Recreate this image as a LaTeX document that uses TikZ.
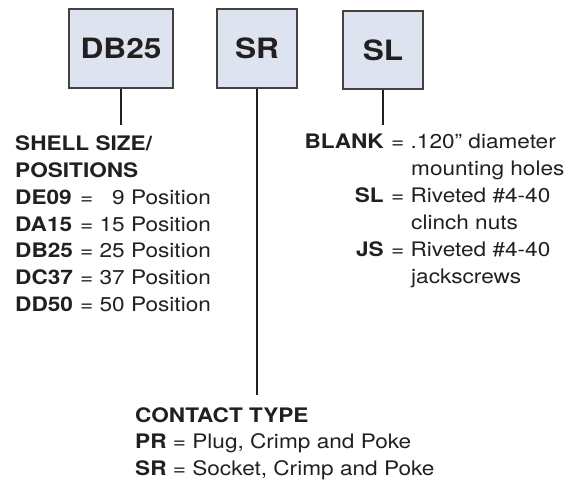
\documentclass[tikz,border=0pt]{standalone}
\usepackage{fontspec}
\setmainfont{TeX Gyre Heros}[FakeStretch=1.13]
\definecolor{boxfill}{HTML}{DDE4EF}
\definecolor{ink}{HTML}{231F20}
\tikzset{
	codebox/.style={draw=ink!85, line width=1.1pt, fill=boxfill, minimum height=79pt, inner sep=0pt, text=ink, font=\fontsize{28}{32}\selectfont\bfseries},
	lbl/.style={inner sep=0pt, text=ink, font=\fontsize{20}{24}\selectfont},
	lead/.style={draw=ink, line width=1.6pt},
}
\begin{document}
\begin{tikzpicture}[x=1pt,y=-1pt]
	\useasboundingbox (0,0) rectangle (580,481);
	\node[codebox,minimum width=104pt] at (121,48.5) (db) {DB25};
	\node[codebox,minimum width=80pt] at (257,48.5) (sr) {SR};
	\node[codebox,minimum width=80pt,minimum height=78pt] at (383,50) (sl) {SL};
	\coordinate (dbend) at (121,125);
	\coordinate (srend) at (257,395);
	\coordinate (slend) at (383,125);
	\draw[lead] (db) -- (dbend);
	\draw[lead] (sr) -- (srend);
	\draw[lead] (sl) -- (slend);
	% shell size
	\node[lbl,anchor=base west] at (15,151) (shell) {\bfseries SHELL SIZE/};
	\node[lbl,anchor=base west] at (15,177.7) (pos) {\bfseries POSITIONS};
	\node[lbl,anchor=base west] at (15,204.4) (de) {\bfseries DE09};
	\node[lbl,anchor=base west] at (15,231) (da) {\bfseries DA15};
	\node[lbl,anchor=base west] at (15,257.8) (dbb) {\bfseries DB25};
	\node[lbl,anchor=base west] at (15,284.5) (dc) {\bfseries DC37};
	\node[lbl,anchor=base west] at (15,311) (dd) {\bfseries DD50};
	\node[lbl,anchor=base west] at (80,204.4) (dev) {= \phantom{1}9 Position};
	\node[lbl,anchor=base west] at (80,231) (dav) {= 15 Position};
	\node[lbl,anchor=base west] at (80,257.8) (dbv) {= 25 Position};
	\node[lbl,anchor=base west] at (80,284.5) (dcv) {= 37 Position};
	\node[lbl,anchor=base west] at (80,311) (ddv) {= 50 Position};
	% hardware
	\node[lbl,anchor=base east] at (384,149) (blank) {\bfseries BLANK};
	\node[lbl,anchor=base east] at (384,202.6) (slk) {\bfseries SL};
	\node[lbl,anchor=base east] at (384,256) (js) {\bfseries JS};
	\node[lbl,anchor=base west] at (391,149) (blankv) {= .120\symbol{34} diameter};
	\node[lbl,anchor=base west] at (411,175.8) (blankw) {mounting holes};
	\node[lbl,anchor=base west] at (391,202.6) (slv) {= Riveted \#4-40};
	\node[lbl,anchor=base west] at (411,229.4) (slw) {clinch nuts};
	\node[lbl,anchor=base west] at (391,256) (jsv) {= Riveted \#4-40};
	\node[lbl,anchor=base west] at (411,283) (jsw) {jackscrews};
	% contact type
	\node[lbl,anchor=base west] at (135,422) (contact) {\bfseries CONTACT TYPE};
	\node[lbl,anchor=base west] at (135,448.5) (pr) {\textbf{PR} = Plug, Crimp and Poke};
	\node[lbl,anchor=base west] at (135,475) (srk) {\textbf{SR} = Socket, Crimp and Poke};
\end{tikzpicture}
\end{document}
